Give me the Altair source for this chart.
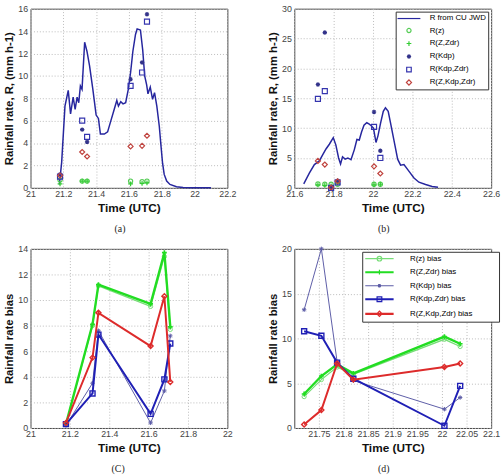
import altair as alt
import pandas as pd

FONT = "Liberation Sans"
SERIF = "Liberation Serif"

# ---------- event 1 (panels a, c) ----------
a_ref_time = [21.176, 21.19, 21.21, 21.23, 21.244, 21.26, 21.272, 21.284, 21.294, 21.304,
              21.314, 21.33, 21.344, 21.36, 21.38, 21.40, 21.414, 21.426, 21.45, 21.47,
              21.49, 21.51, 21.526, 21.536, 21.55, 21.564, 21.58, 21.596, 21.61, 21.624,
              21.64, 21.65, 21.67, 21.684, 21.696, 21.708, 21.716, 21.73, 21.744, 21.756,
              21.77, 21.785, 21.795, 21.805, 21.815, 21.83, 21.85, 21.89, 21.93, 21.99, 22.1]
a_ref_rate = [0.3, 2.3, 7.3, 8.7, 6.6, 8.1, 7.0, 8.1, 7.6, 9.1,
              8.8, 13.0, 12.2, 10.9, 8.8, 6.5, 6.2, 4.8, 4.8, 5.0,
              6.0, 7.0, 7.8, 7.3, 7.7, 7.5, 7.6, 8.8, 10.3, 12.2,
              13.7, 14.2, 14.1, 12.3, 10.0, 9.2, 8.4, 9.0, 7.9, 8.5,
              7.3, 5.5, 3.8, 2.2, 1.2, 0.6, 0.3, 0.1, 0.03, 0.0, 0.0]

a_est_time = [21.18, 21.315, 21.345, 21.61, 21.68, 21.71]
a_rz = [0.7, 0.6, 0.6, 0.6, 0.55, 0.6]
a_rzzdr = [0.35, 0.6, 0.6, 0.35, 0.4, 0.45]
a_rkdp = [1.2, 5.2, 4.1, 9.7, 11.2, 15.5]
a_rkdpzdr = [1.0, 6.0, 4.55, 9.1, 10.3, 14.85]
a_rzkdpzdr = [1.1, 3.2, 2.8, 3.7, 3.75, 4.65]

c_rz = [0.3, 8.0, 11.1, 9.5, 13.4, 7.7]
c_rzzdr = [0.3, 8.1, 11.2, 9.7, 13.7, 7.9]
c_rkdp = [0.2, 3.5, 7.6, 0.4, 2.9, 7.2]
c_rkdpzdr = [0.3, 2.7, 7.3, 1.1, 3.8, 6.6]
c_rzkdpzdr = [0.4, 5.5, 9.0, 6.4, 10.3, 3.6]

# ---------- event 2 (panels b, d) ----------
b_ref_time = [21.648, 21.677, 21.702, 21.727, 21.744, 21.761, 21.778, 21.798, 21.811, 21.825,
              21.835, 21.845, 21.858, 21.872, 21.888, 21.905, 21.918, 21.93, 21.942, 21.954,
              21.968, 21.979, 21.991, 22.002, 22.015, 22.025, 22.038, 22.052, 22.063, 22.077,
              22.088, 22.1, 22.112, 22.125, 22.14, 22.157, 22.182, 22.208, 22.233, 22.267,
              22.3, 22.33]
b_ref_rate = [0.67, 2.5, 3.9, 4.5, 5.5, 6.5, 7.3, 8.4, 7.2, 5.0,
              4.0, 5.2, 4.8, 5.0, 4.7, 6.4, 8.1, 8.0, 9.4, 10.5,
              10.9, 10.7, 10.4, 10.0, 7.6, 8.7, 10.8, 12.8, 13.4, 12.8,
              11.0, 9.0, 7.0, 4.8, 3.8, 3.9, 2.8, 1.65, 0.94, 0.55,
              0.22, 0.1]

b_est_time = [21.72, 21.755, 21.787, 21.82, 22.005, 22.037]
b_rz = [0.66, 0.6, 0.6, 0.6, 0.6, 0.6]
b_rzzdr = [0.5, 0.4, 0.3, 0.8, 0.5, 0.6]
b_rkdp = [17.3, 26.0, 0.0, 1.2, 12.7, 6.2]
b_rkdpzdr = [14.9, 16.2, 0.0, 0.9, 10.2, 5.0]
b_rzkdpzdr = [4.5, 3.9, 0.05, 1.1, 3.6, 2.4]

d_rz = [3.5, 5.4, 6.8, 6.0, 9.9, 9.1]
d_rzzdr = [3.8, 5.8, 7.1, 6.1, 10.2, 9.4]
d_rkdp = [13.2, 20.0, 7.4, 5.3, 2.1, 3.4]
d_rkdpzdr = [10.8, 10.3, 7.3, 5.5, 0.25, 4.7]
d_rzkdpzdr = [0.4, 2.0, 7.2, 5.4, 6.8, 7.2]

# ---------- series names and styles ----------
ref_name = "R from CU JWD"
est_names = ["R(z)", "R(Z,Zdr)", "R(Kdp)", "R(Kdp,Zdr)", "R(Z,Kdp,Zdr)"]
bias_names = ["R(z) bias", "R(Z,Zdr) bias", "R(Kdp) bias", "R(Kdp,Zdr) bias", "R(Z,Kdp,Zdr) bias"]

ref_color = "#26269e"
est_colors = ["#55cc55", "#33cc33", "#33338a", "#3434ae", "#c0443f"]
bias_colors = ["#77dd77", "#22dd22", "#5c5ca6", "#1f1fb5", "#dd2b2b"]
bias_widths = [1.3, 2.4, 1.0, 2.0, 2.0]


def star(r):
    k = round(r * 0.7, 3)
    return (f"M{-r},0L{r},0M0,{-r}L0,{r}"
            f"M{-k},{-k}L{k},{k}M{-k},{k}L{k},{-k}")


def circ(r):
    return f"M{r},0A{r},{r} 0 1,1 {-r},0A{r},{r} 0 1,1 {r},0"


def square(r):
    return f"M{-r},{-r}H{r}V{r}H{-r}Z"


def diamond(r):
    return f"M{-r},0L0,{-r}L{r},0L0,{r}Z"


def plus(r):
    return f"M{-r},0L{r},0M0,{-r}L0,{r}"


def hline(r, gap=0.0):
    if gap:
        return f"M{-r},{-gap}L{r},{-gap}M{-r},{gap}L{r},{gap}"
    return f"M{-r},0L{r},0"


marker_shapes = ["circle", plus(1), star(1), "square", "diamond"]
marker_sizes = [18, 24, 20, 26, 26]

# legend keys are drawn at symbol size 64 (1 unit = 4 px)
KEY_SIZE = 64
b_legend_paths = [hline(2.9), circ(0.53), plus(0.6), star(0.55), square(0.58), diamond(0.65)]
d_legend_paths = [hline(3.6) + circ(0.58), hline(3.6, 0.12) + plus(0.6),
                  hline(3.6) + star(0.45), hline(3.6, 0.12) + square(0.6),
                  hline(3.6, 0.12) + diamond(0.68)]


def long_table(times, cols, names):
    rows = []
    for name, vals in zip(names, cols):
        for t, v in zip(times, vals):
            rows.append({"time": t, "value": v, "series": name})
    return pd.DataFrame(rows)


def encodings(xdom, xvals, ydom, yvals, ytitle):
    x = alt.X("time:Q", scale=alt.Scale(domain=xdom, nice=False, zero=False),
              axis=alt.Axis(values=xvals, title="Time (UTC)", format="~g",
                            labelFlush=False, labelOverlap=False))
    y = alt.Y("value:Q", scale=alt.Scale(domain=ydom, nice=False, zero=False),
              axis=alt.Axis(values=yvals, title=ytitle, format="~g", labelOverlap=False))
    return x, y


def legend_spec(lx, ly, font_size, row_pad, sym_offset, label_offset, label_expr=None):
    kw = dict(title=None, orient="none", legendX=lx, legendY=ly, fillColor="white",
              strokeColor="#333333", padding=2, symbolSize=KEY_SIZE, symbolStrokeWidth=1.2,
              symbolOffset=sym_offset, labelFont=FONT, labelFontSize=font_size,
              labelColor="black", rowPadding=row_pad, labelOffset=label_offset,
              cornerRadius=0, labelLimit=400)
    if label_expr:
        kw["labelExpr"] = label_expr
    return alt.Legend(**kw)


def caption(text):
    return alt.TitleParams(text, orient="bottom", anchor="middle", frame="bounds",
                           font=SERIF, fontSize=10, fontWeight="normal", color="#222222",
                           offset=11)


def key_layer(df, x, y, cscale, names, paths, legend):
    # empty layer that only carries the legend symbols
    return (alt.Chart(df).transform_filter("false")
            .mark_point(filled=False, opacity=1)
            .encode(x=x, y=y,
                    color=alt.Color("series:N", scale=cscale, legend=legend),
                    shape=alt.Shape("series:N", scale=alt.Scale(domain=names, range=paths),
                                    legend=legend)))


def estimate_panel(ref_t, ref_r, est_t, est_cols, xdom, xvals, ydom, yvals, cap, legend=None):
    x, y = encodings(xdom, xvals, ydom, yvals, "Rainfall rate, R, (mm h-1)")
    names = [ref_name] + est_names
    cscale = alt.Scale(domain=names, range=[ref_color] + est_colors)
    ref_df = pd.DataFrame({"time": ref_t, "value": ref_r, "series": ref_name})
    est_df = long_table(est_t, est_cols, est_names)

    layers = []
    if legend is not None:
        layers.append(key_layer(est_df, x, y, cscale, names, b_legend_paths, legend))
    layers.append(alt.Chart(ref_df).mark_line(strokeWidth=1.5).encode(
        x=x, y=y, color=alt.Color("series:N", scale=cscale, legend=legend)))
    for name, shp, sz in zip(est_names, marker_shapes, marker_sizes):
        layers.append(
            alt.Chart(est_df).transform_filter(alt.datum.series == name)
            .mark_point(shape=shp, size=sz, filled=False, strokeWidth=1.2, opacity=1)
            .encode(x=x, y=y, color=alt.Color("series:N", scale=cscale, legend=legend)))
    return alt.layer(*layers).properties(width=200, height=182, title=caption(cap))


def bias_panel(est_t, cols, xdom, xvals, ydom, yvals, cap, legend=None):
    x, y = encodings(xdom, xvals, ydom, yvals, "Rainfall rate bias")
    cscale = alt.Scale(domain=bias_names, range=bias_colors)
    df = long_table(est_t, cols, bias_names)
    layers = []
    if legend is not None:
        layers.append(key_layer(df, x, y, cscale, bias_names, d_legend_paths, legend))
    for name, w, shp, sz in zip(bias_names, bias_widths, marker_shapes, marker_sizes):
        sub = df[df["series"] == name]
        layers.append(alt.Chart(sub).mark_line(strokeWidth=w).encode(
            x=x, y=y, color=alt.Color("series:N", scale=cscale, legend=legend)))
        layers.append(alt.Chart(sub).mark_point(shape=shp, size=sz, filled=False,
                                                strokeWidth=max(1.0, w * 0.7), opacity=1)
                      .encode(x=x, y=y, color=alt.Color("series:N", scale=cscale, legend=legend)))
    return alt.layer(*layers).properties(width=200, height=182, title=caption(cap))


a_x = [21, 21.2, 21.4, 21.6, 21.8, 22, 22.2]
b_x = [21.6, 21.8, 22, 22.2, 22.4, 22.6]
c_x = [21, 21.2, 21.4, 21.6, 21.8, 22]
d_x = [21.75, 21.8, 21.85, 21.9, 21.95, 22, 22.05, 22.1]

panel_a = estimate_panel(a_ref_time, a_ref_rate, a_est_time,
                         [a_rz, a_rzzdr, a_rkdp, a_rkdpzdr, a_rzkdpzdr],
                         [21, 22.2], a_x, [0, 16], list(range(0, 17, 2)), "(a)")

b_legend = legend_spec(103, 3, 8, 3.2, 6.5, 16)
panel_b = estimate_panel(b_ref_time, b_ref_rate, b_est_time,
                         [b_rz, b_rzzdr, b_rkdp, b_rkdpzdr, b_rzkdpzdr],
                         [21.6, 22.6], b_x, [0, 30], list(range(0, 31, 5)), "(b)",
                         legend=b_legend)

panel_c = bias_panel(a_est_time, [c_rz, c_rzzdr, c_rkdp, c_rkdpzdr, c_rzkdpzdr],
                     [21, 22], c_x, [0, 14], list(range(0, 15, 2)), "(C)")

# non-breaking spaces widen the key box; the zero-width space keeps them from being trimmed
pad = "\u00a0" * 11 + "\u200b"
d_legend = legend_spec(69, 3, 8, 3.75, 10.5, 26, label_expr=f"datum.label + '{pad}'")
panel_d = bias_panel(b_est_time, [d_rz, d_rzzdr, d_rkdp, d_rkdpzdr, d_rzkdpzdr],
                     [21.7, 22.1], d_x, [0, 20], list(range(0, 21, 5)), "(d)",
                     legend=d_legend)

chart = (
    alt.concat(panel_a, panel_b, panel_c, panel_d, columns=2,
               spacing={"row": 62, "column": 68}, bounds="flush")
    .resolve_scale(x="independent", y="independent", color="independent", shape="independent")
    .resolve_legend(color="independent", shape="independent")
    .properties(padding={"left": 3, "top": 0, "right": 0, "bottom": 0})
    .configure(font=FONT)
    .configure_view(stroke="#444444", strokeWidth=1)
    .configure_axis(labelFont=FONT, labelFontSize=9, labelColor="#444444",
                    titleFont=FONT, titleFontWeight="bold", titleColor="#111111",
                    gridColor="#bbbbbb", gridDash=[1, 2], gridWidth=1,
                    ticks=False, domain=False, labelPadding=3)
    .configure_axisX(titleFontSize=12, titlePadding=4, labelPadding=2)
    .configure_axisY(titleFontSize=11.5, titlePadding=3)
)

chart.save("out.html", embed_options={"renderer": "svg", "actions": False})
